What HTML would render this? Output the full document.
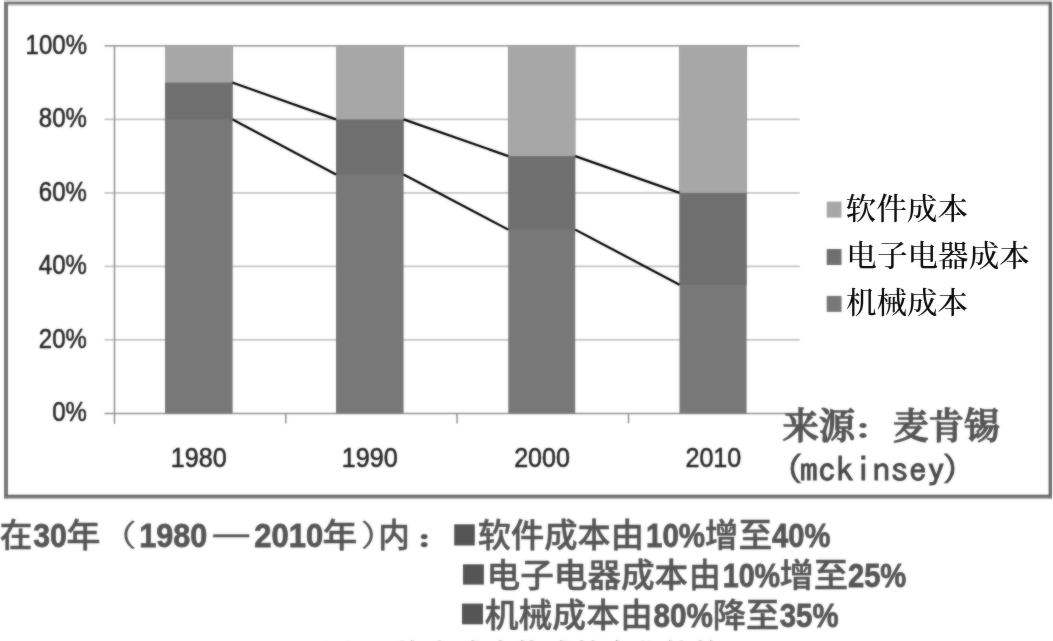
<!DOCTYPE html>
<html lang="zh-CN"><head><meta charset="utf-8"><title>汽车成本构成变化</title>
<style>html,body{margin:0;padding:0;background:#fff;overflow:hidden}svg{display:block}</style></head><body>
<svg width="1053" height="641" viewBox="0 0 1053 641">
<defs><filter id="soft" x="-2%" y="-2%" width="104%" height="104%" color-interpolation-filters="sRGB"><feGaussianBlur in="SourceGraphic" stdDeviation="0.8" result="b"/><feComposite in="SourceGraphic" in2="b" operator="arithmetic" k1="0" k2="0.5" k3="0.5" k4="0"/></filter><filter id="crisp" x="-2%" y="-5%" width="104%" height="110%" color-interpolation-filters="sRGB"><feGaussianBlur in="SourceGraphic" stdDeviation="0.8" result="b"/><feComposite in="SourceGraphic" in2="b" operator="arithmetic" k1="0" k2="0.85" k3="0.15" k4="0"/></filter></defs>
<g filter="url(#soft)">
<rect x="-20" y="-20" width="1093" height="681" fill="#ffffff"/>
<g id="frame">
<rect x="4" y="0" width="1048" height="2" fill="#c9c9c9"/>
<rect x="4" y="2" width="1048" height="2" fill="#747474"/>
<rect x="8" y="4" width="1041" height="1.7" fill="#c2c2c2"/>
<rect x="4" y="2" width="4" height="496.5" fill="#787878"/>
<rect x="1048.6" y="2" width="3.4" height="496.5" fill="#6c6c6c"/>
<defs><linearGradient id="bb" x1="0" y1="0" x2="0" y2="1"><stop offset="0" stop-color="#606060"/><stop offset="1" stop-color="#8c8c8c"/></linearGradient></defs>
<rect x="4" y="494.7" width="1048" height="3.9" fill="url(#bb)"/>
</g>
<g id="grid" stroke="#c4c4c4" stroke-width="1.9">
<line x1="104.5" y1="45.9" x2="799.8" y2="45.9" stroke="#a2a2a2" stroke-width="1.6"/>
<line x1="104.5" y1="119.4" x2="799.8" y2="119.4"/>
<line x1="104.5" y1="192.9" x2="799.8" y2="192.9"/>
<line x1="104.5" y1="266.4" x2="799.8" y2="266.4"/>
<line x1="104.5" y1="339.9" x2="799.8" y2="339.9"/>
</g>
<g id="axes" stroke="#929292" stroke-width="1.5">
<line x1="114.5" y1="45.199999999999996" x2="114.5" y2="423.9"/>
<line x1="104.5" y1="413.4" x2="799.8" y2="413.4"/>
<line x1="285.8" y1="413.4" x2="285.8" y2="423.4"/>
<line x1="457.1" y1="413.4" x2="457.1" y2="423.4"/>
<line x1="628.5" y1="413.4" x2="628.5" y2="423.4"/>
<line x1="799.8" y1="413.4" x2="799.8" y2="423.4"/>
</g>
<g id="bars">
<rect x="165.0" y="45.9" width="67.6" height="367.5" fill="#787878"/>
<rect x="165.0" y="45.9" width="67.6" height="73.5" fill="#6f6f6f"/>
<rect x="165.0" y="45.9" width="67.6" height="36.7" fill="#a7a7a7"/>
<rect x="336.0" y="45.9" width="67.6" height="367.5" fill="#787878"/>
<rect x="336.0" y="45.9" width="67.6" height="128.6" fill="#6f6f6f"/>
<rect x="336.0" y="45.9" width="67.6" height="73.5" fill="#a7a7a7"/>
<rect x="508.3" y="45.9" width="66.9" height="367.5" fill="#787878"/>
<rect x="508.3" y="45.9" width="66.9" height="183.7" fill="#6f6f6f"/>
<rect x="508.3" y="45.9" width="66.9" height="110.2" fill="#a7a7a7"/>
<rect x="679.5" y="45.9" width="67.1" height="367.5" fill="#787878"/>
<rect x="679.5" y="45.9" width="67.1" height="238.9" fill="#6f6f6f"/>
<rect x="679.5" y="45.9" width="67.1" height="147.0" fill="#a7a7a7"/>
</g>
<g id="serieslines" stroke="#000" stroke-width="2.2" stroke-linecap="butt">
<line x1="232.6" y1="82.6" x2="336.0" y2="119.4"/>
<line x1="232.6" y1="119.4" x2="336.0" y2="174.5"/>
<line x1="403.6" y1="119.4" x2="508.3" y2="156.1"/>
<line x1="403.6" y1="174.5" x2="508.3" y2="229.6"/>
<line x1="575.2" y1="156.1" x2="679.5" y2="192.9"/>
<line x1="575.2" y1="229.6" x2="679.5" y2="284.8"/>
</g>
<g id="ylabels" font-family='"Liberation Sans", "Noto Sans CJK SC", sans-serif' font-size="24" fill="#262626" stroke="#262626" stroke-width="0.5">
<text transform="translate(25.62,53.50) scale(1.0000,1.1150)">100%</text>
<text transform="translate(38.82,127.00) scale(1.0000,1.1150)">80%</text>
<text transform="translate(38.82,200.50) scale(1.0000,1.1150)">60%</text>
<text transform="translate(38.82,274.00) scale(1.0000,1.1150)">40%</text>
<text transform="translate(38.82,347.50) scale(1.0000,1.1150)">20%</text>
<text transform="translate(52.26,421.00) scale(1.0000,1.1150)">0%</text>
</g>
<g id="xlabels" font-family='"Liberation Sans", "Noto Sans CJK SC", sans-serif' font-size="25.1" fill="#262626" stroke="#262626" stroke-width="0.5">
<text transform="translate(170.84,467.10) scale(1.0000,1.0660)">1980</text>
<text transform="translate(341.84,467.10) scale(1.0000,1.0660)">1990</text>
<text transform="translate(514.16,467.10) scale(1.0000,1.0660)">2000</text>
<text transform="translate(685.46,467.10) scale(1.0000,1.0660)">2010</text>
</g>
<g id="legendkeys">
<rect x="826.7" y="201.6" width="14.8" height="16" fill="#a7a7a7"/>
<rect x="826.7" y="249" width="14.8" height="16" fill="#6f6f6f"/>
<rect x="826.7" y="295.9" width="14.8" height="16" fill="#787878"/>
</g>
<g id="source" font-family='"Liberation Serif", "Noto Serif CJK SC", serif' font-weight="500" font-size="36.2" fill="#555" stroke="#555" stroke-width="1.4">
<text transform="translate(782.51,439.40) scale(1.0039,1.0100)">来源</text>
<text transform="translate(853.00,438.00) scale(1.4000,1.0000)" font-size="25" font-weight="900" stroke="none">：</text>
<text transform="translate(892.88,439.40) scale(0.9833,1.0100)">麦肯锡</text>
</g>
<g id="source2" font-family='"IPAGothic", "Liberation Mono", monospace' font-size="35.8" fill="#484848" stroke="#484848" stroke-width="0.8">
<text transform="translate(767.57,480.80) scale(1.0000,0.9050)">（</text>
<text transform="translate(799.78,482.30) scale(1.0142,0.9550)">mckinsey</text>
<text transform="translate(941.83,480.80) scale(1.0000,0.9050)">）</text>
</g>
<g id="notes" font-family='"Liberation Sans", "Noto Sans CJK SC", sans-serif' font-weight="bold" font-size="33" fill="#555">
<text transform="translate(-0.18,547.00) scale(0.9857,1.0000)" font-weight="500" stroke="#555" stroke-width="0.5">在</text>
<text transform="translate(33.20,547.00) scale(0.9149,1.0000)" stroke="#555" stroke-width="0.8">30</text>
<text transform="translate(66.44,547.00) scale(1.0277,1.0000)" font-weight="500" stroke="#555" stroke-width="0.5">年</text>
<text transform="translate(96.25,545.80) scale(1.3500,1.0000)" font-weight="normal" font-size="30">（</text>
<text transform="translate(139.17,547.00) scale(0.9262,1.0000)" stroke="#555" stroke-width="0.8">1980</text>
<text transform="translate(213.20,544.40) scale(1.0848,1.0000)" font-weight="500" stroke="#555" stroke-width="0.5">—</text>
<text transform="translate(254.37,547.00) scale(0.9401,1.0000)" stroke="#555" stroke-width="0.8">2010</text>
<text transform="translate(322.61,547.00) scale(1.0540,1.0000)" font-weight="500" stroke="#555" stroke-width="0.5">年</text>
<text transform="translate(360.45,545.80) scale(1.3500,1.0000)" font-weight="normal" font-size="30">）</text>
<text transform="translate(378.16,547.00) scale(0.9571,1.0000)" font-weight="500" stroke="#555" stroke-width="0.5">内</text>
<text transform="translate(419.07,545.80) scale(1.3000,1.0000)" font-size="16" stroke="#555" stroke-width="2.2">：</text>
<rect x="454.2" y="524.3" width="20.6" height="21.2" />
<text transform="translate(477.67,547.00) scale(1.0084,1.0000)" font-weight="500" stroke="#555" stroke-width="0.5">软件成本由</text>
<text transform="translate(646.03,547.00) scale(0.8948,1.0000)" stroke="#555" stroke-width="0.8">10%</text>
<text transform="translate(704.86,547.00) scale(1.0186,1.0000)" font-weight="500" stroke="#555" stroke-width="0.5">增至</text>
<text transform="translate(772.02,547.00) scale(0.8827,1.0000)" stroke="#555" stroke-width="0.8">40%</text>
<rect x="463" y="564.3" width="20.9" height="20.3" />
<text transform="translate(486.56,587.00) scale(1.0191,1.0000)" font-weight="500" stroke="#555" stroke-width="0.5">电子电器成本</text>
<text transform="translate(689.12,587.00) scale(0.9596,1.0000)" font-weight="500" stroke="#555" stroke-width="0.5">由</text>
<text transform="translate(722.68,587.00) scale(0.8694,1.0000)" stroke="#555" stroke-width="0.8">10%</text>
<text transform="translate(779.43,587.00) scale(1.0408,1.0000)" font-weight="500" stroke="#555" stroke-width="0.5">增至</text>
<text transform="translate(847.92,587.00) scale(0.8841,1.0000)" stroke="#555" stroke-width="0.8">25%</text>
<rect x="462" y="603.6" width="21" height="20.7" />
<text transform="translate(484.69,627.00) scale(1.0248,1.0000)" font-weight="500" stroke="#555" stroke-width="0.5">机械成本</text>
<text transform="translate(620.47,627.00) scale(0.9713,1.0000)" font-weight="500" stroke="#555" stroke-width="0.5">由</text>
<text transform="translate(653.51,627.00) scale(0.8997,1.0000)" stroke="#555" stroke-width="0.8">80%</text>
<text transform="translate(712.66,627.00) scale(1.0123,1.0000)" font-weight="500" stroke="#555" stroke-width="0.5">降至</text>
<text transform="translate(779.71,627.00) scale(0.8904,1.0000)" stroke="#555" stroke-width="0.8">35%</text>
</g>
<text x="322" y="666.2" font-family='"Liberation Serif", "Noto Serif CJK SC", serif' font-size="30" fill="#444" textLength="400" lengthAdjust="spacing">图1-2 汽车成本构成的变化趋势</text>
</g>
<g id="legend" filter="url(#crisp)" font-family='"Liberation Serif", "Noto Serif CJK SC", serif' font-size="30.6" font-weight="500" fill="#0a0a0a">
<text transform="translate(845.57,218.50) scale(1.0021,0.9550)">软件成本</text>
<text transform="translate(846.33,266.10) scale(1.0000,0.9550)">电子电器成本</text>
<text transform="translate(845.88,313.20) scale(0.9995,0.9550)">机械成本</text>
</g>
</svg></body></html>
